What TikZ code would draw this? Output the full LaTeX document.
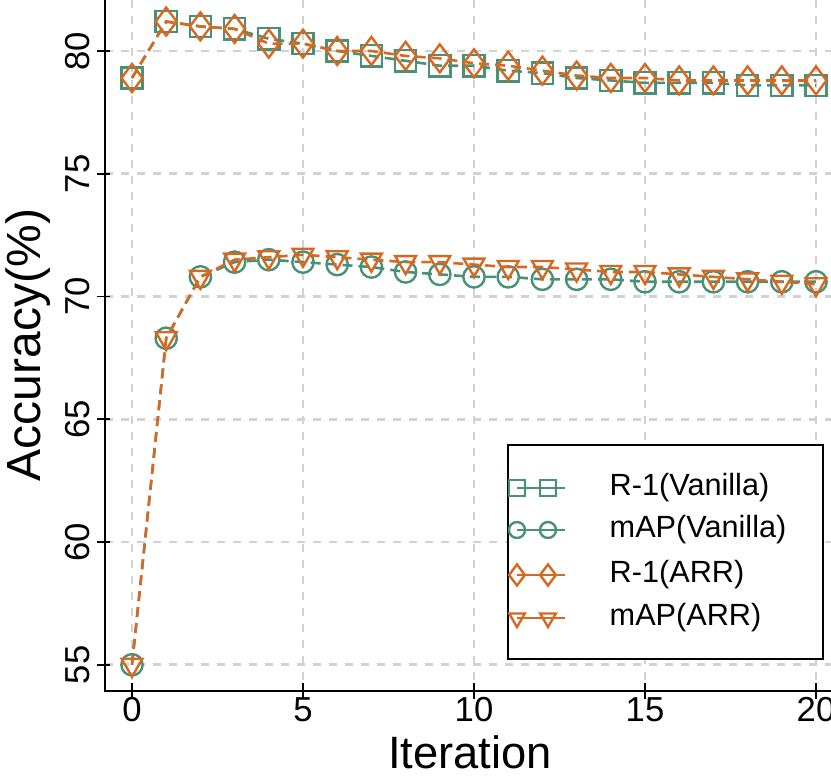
\documentclass[tikz,border=0pt]{standalone}
\usepackage{fontspec}
\setmainfont{Liberation Sans}
\usetikzlibrary{plotmarks}
\begin{document}
\begin{tikzpicture}[x=0.75pt,y=-0.75pt,
  ser/.style={line width=2.6pt*0.75, dash pattern=on 7.5pt off 4.5pt},
  mk/.style={line width=2.4pt*0.75, solid, fill=none},
  gridl/.style={draw={rgb,255:red,210;green,210;blue,210}, line width=2.2pt, dash pattern=on 6pt off 6pt},
  tick/.style={font=\fontsize{26}{28}\selectfont}]
\useasboundingbox (0,0) rectangle (831,781);
\definecolor{cg}{RGB}{72,145,118}
\definecolor{co}{RGB}{214,105,34}
% grid
\foreach \i in {0,5,10,15,20} \draw[gridl] ({132+34.2*\i},0) -- ({132+34.2*\i},691);
\foreach \v in {55,60,65,70,75,80} \draw[gridl] (105,{51+24.55*(80-\v)}) -- (831,{51+24.55*(80-\v)});
% axes
\draw[line width=1.3pt] (105,0) -- (105,691) -- (831,691);
\foreach \i in {0,5,10,15,20} {
  \draw[line width=1.2pt] ({132+34.2*\i},683) -- ({132+34.2*\i},699);
  \node[tick,anchor=north] at ({132+34.2*\i},693) {\i};}
\foreach \v in {55,60,65,70,75,80} {
  \draw[line width=1.2pt] (97,{51+24.55*(80-\v)}) -- (110,{51+24.55*(80-\v)});
  \node[tick,rotate=90,anchor=south] at (95,{51+24.55*(80-\v)}) {\v};}
\node[font=\fontsize{34}{36}\selectfont] at (470,752) {Iteration};
\node[font=\fontsize{36}{38}\selectfont,rotate=90] at (28,345) {Accuracy(\%)};
\begin{scope}[shift={(132,51)},x=25.65pt,y=18.4125pt]
% R-1 vanilla
\draw[ser,color=cg] plot[mark=square,mark size=8pt,mark options={mk}] coordinates {
(0,-1.1)(1,1.2)(2,1.0)(3,0.9)(4,0.5)(5,0.3)(6,0.0)(7,-0.2)(8,-0.4)(9,-0.6)(10,-0.6)(11,-0.8)(12,-0.9)(13,-1.1)(14,-1.2)(15,-1.3)(16,-1.3)(17,-1.3)(18,-1.4)(19,-1.4)(20,-1.4)};
% mAP vanilla
\draw[ser,color=cg] plot[mark=o,mark size=8pt,mark options={mk}] coordinates {
(0,-25)(1,-11.7)(2,-9.2)(3,-8.6)(4,-8.5)(5,-8.6)(6,-8.7)(7,-8.8)(8,-9.0)(9,-9.1)(10,-9.2)(11,-9.2)(12,-9.3)(13,-9.3)(14,-9.3)(15,-9.4)(16,-9.4)(17,-9.4)(18,-9.4)(19,-9.4)(20,-9.4)};
% R-1 ARR
\draw[ser,color=co] plot[mark=diamond,mark size=10.5pt,mark options={mk}] coordinates {
(0,-1.1)(1,1.2)(2,1.0)(3,0.9)(4,0.3)(5,0.3)(6,0.0)(7,0.0)(8,-0.2)(9,-0.3)(10,-0.5)(11,-0.6)(12,-0.8)(13,-1.0)(14,-1.1)(15,-1.1)(16,-1.2)(17,-1.2)(18,-1.2)(19,-1.2)(20,-1.2)};
% mAP ARR
\draw[ser,color=co] plot[mark=triangle,mark size=9pt,mark options={mk,rotate=180}] coordinates {
(0,-25)(1,-11.7)(2,-9.2)(3,-8.5)(4,-8.4)(5,-8.3)(6,-8.4)(7,-8.5)(8,-8.6)(9,-8.6)(10,-8.7)(11,-8.8)(12,-8.8)(13,-8.9)(14,-9.0)(15,-9.0)(16,-9.1)(17,-9.2)(18,-9.3)(19,-9.4)(20,-9.5)};
\end{scope}
% legend
\draw[fill=white,line width=1pt] (508,445) rectangle (823,659);
\foreach \y/\c/\m/\s/\r/\t in {488/cg/square/6/0/R-1(Vanilla), 530/cg/o/6/0/mAP(Vanilla), 575/co/diamond/7.9/0/R-1(ARR), 618/co/triangle/6.8/180/mAP(ARR)} {
  \draw[line width=1.95pt,color=\c] plot[mark=\m,mark size=\s pt,mark options={mk,rotate=\r}] coordinates {(517,\y)(548,\y)};
  \draw[line width=1.95pt,color=\c] (548,\y) -- (565,\y);
  \node[anchor=west,font=\fontsize{23}{25}\selectfont] at (605,\y) {\t};}
\end{tikzpicture}
\end{document}
